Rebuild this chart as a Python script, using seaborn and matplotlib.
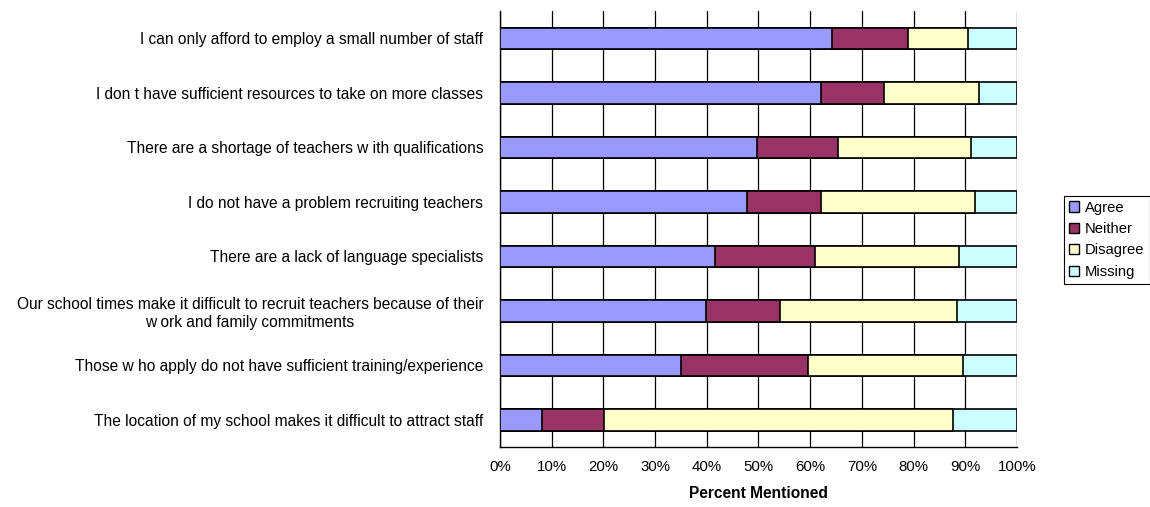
import matplotlib
matplotlib.use("Agg")
import matplotlib.pyplot as plt
from matplotlib.patches import Patch
import seaborn as sns
import pandas as pd
import numpy as np

categories = [
    "I can only afford to employ a small number of staff",
    "I don t have sufficient resources to take on more classes",
    "There are a shortage of teachers w ith qualifications",
    "I do not have a problem recruiting teachers",
    "There are a lack of language specialists",
    "Our school times make it difficult to recruit teachers because of their\nw ork and family commitments",
    "Those w ho apply do not have sufficient training/experience",
    "The location of my school makes it difficult to attract staff",
]
agree = [64.3, 62.1, 49.7, 47.7, 41.6, 39.9, 35.1, 8.1]
neither = [14.7, 12.1, 15.7, 14.4, 19.4, 14.3, 24.4, 12.0]
disagree = [11.5, 18.5, 25.7, 29.8, 27.8, 34.3, 30.0, 67.5]
missing = [9.5, 7.3, 8.9, 8.1, 11.2, 11.5, 10.5, 12.4]
series_names = ["Agree", "Neither", "Disagree", "Missing"]
colors = ["#9999FF", "#993366", "#FFFFCC", "#CCFFFF"]
xticks = [0, 10, 20, 30, 40, 50, 60, 70, 80, 90, 100]
xlabel = "Percent Mentioned"

sns.set_theme(style="white")
plt.rcParams["font.family"] = ["Liberation Sans", "DejaVu Sans"]
plt.rcParams["text.color"] = "black"
plt.rcParams["xtick.color"] = "black"
plt.rcParams["ytick.color"] = "black"
plt.rcParams["axes.labelcolor"] = "black"

df = pd.DataFrame({"cat": categories, "Agree": agree, "Neither": neither,
                   "Disagree": disagree, "Missing": missing})
cum = df[series_names].cumsum(axis=1)

fig = plt.figure(figsize=(11.5, 5.07), dpi=100)
ax = fig.add_axes([0.4348, 0.118, 0.4495, 0.860])

for name, col in zip(series_names[::-1], colors[::-1]):
    d = pd.DataFrame({"cat": categories, "val": cum[name]})
    sns.barplot(data=d, x="val", y="cat", order=categories, color=col,
                orient="h", width=0.4, edgecolor="black", linewidth=1.2,
                saturation=1, ax=ax, zorder=3)

fs = 11.2
ax.set_xlim(0, 100)
ax.set_ylim(len(categories) - 0.5, -0.5)
ax.set_xticks(xticks)
ax.set_xticklabels([f"{t}%" for t in xticks], fontsize=10.8)
ax.tick_params(axis="x", length=0, pad=9)
ax.set_yticks(range(len(categories)))
ax.set_yticklabels(categories, fontsize=fs, multialignment="center")
ax.tick_params(axis="y", length=0, pad=12)
ax.set_yticks(np.arange(-0.5, len(categories), 1), minor=True)
ax.tick_params(axis="y", which="minor", length=4, color="black", width=1)
ax.set_xlabel(xlabel, fontsize=fs, fontweight="bold", labelpad=9)
ax.set_ylabel("")
ax.xaxis.grid(True, color="black", linewidth=0.9, zorder=0)
ax.yaxis.grid(False)
ax.set_axisbelow(True)
for s in ["top", "right"]:
    ax.spines[s].set_visible(False)
for s in ["left", "bottom"]:
    ax.spines[s].set_color("black")
    ax.spines[s].set_linewidth(1.0)

handles = [Patch(facecolor=c, edgecolor="black", label=n) for n, c in zip(series_names, colors)]
leg = fig.legend(handles=handles, loc="center left", bbox_to_anchor=(0.925, 0.527),
                 frameon=True, fancybox=False, edgecolor="black", framealpha=1,
                 fontsize=10.6, handlelength=0.7, handleheight=0.7, handletextpad=0.4,
                 borderpad=0.35, labelspacing=0.5, borderaxespad=0)
leg.get_frame().set_linewidth(0.8)

fig.savefig("out.png", dpi=100)
